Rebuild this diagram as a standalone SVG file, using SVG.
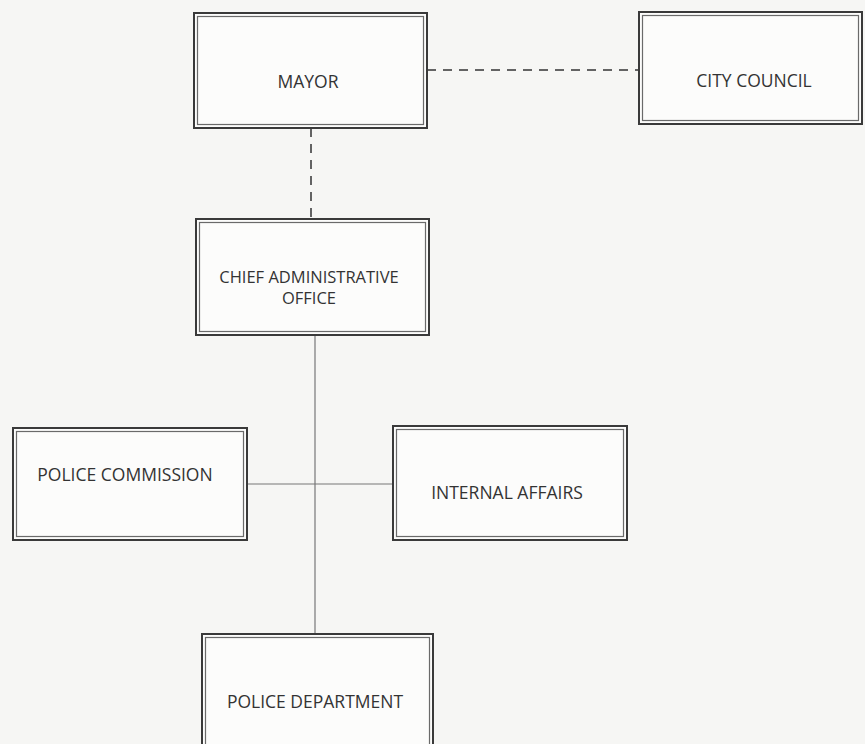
<svg xmlns="http://www.w3.org/2000/svg" width="865" height="744" viewBox="0 0 865 744">
<style>
.outer{fill:#fcfcfb;stroke:#3a3a3a;stroke-width:2}
.inner{fill:none;stroke:#6a6a6a;stroke-width:1.2}
.lbl{font-family:"Open Sans","Liberation Sans",sans-serif;font-size:17.5px;fill:#333;text-anchor:middle}
.small{font-size:16.5px}
.solid{stroke:#777;stroke-width:1.2;fill:none}
.dash{stroke:#333;stroke-width:1.5;fill:none;stroke-dasharray:9,7}
</style>
<rect width="865" height="744" fill="#f6f6f4"/>
<g id="connectors">
<path class="dash" d="M427 70 H638"/>
<path class="dash" d="M311 128 V219"/>
<path class="solid" d="M315 335 V634"/>
<path class="solid" d="M247 484 H393"/>
</g>
<g id="mayor">
<rect class="outer" x="194" y="13" width="233" height="115"/>
<rect class="inner" x="197.5" y="16.5" width="226" height="108"/>
<text class="lbl" x="308" y="88">MAYOR</text>
</g>
<g id="city-council">
<rect class="outer" x="639" y="12" width="223" height="112"/>
<rect class="inner" x="642.5" y="15.5" width="216" height="105"/>
<text class="lbl" x="754" y="86.5">CITY COUNCIL</text>
</g>
<g id="cao">
<rect class="outer" x="196" y="219" width="233" height="116"/>
<rect class="inner" x="199.5" y="222.5" width="226" height="109"/>
<text class="lbl small" x="309" y="283">CHIEF ADMINISTRATIVE</text>
<text class="lbl small" x="309" y="304">OFFICE</text>
</g>
<g id="police-commission">
<rect class="outer" x="13" y="428" width="234" height="112"/>
<rect class="inner" x="16.5" y="431.5" width="227" height="105"/>
<text class="lbl" x="125" y="481">POLICE COMMISSION</text>
</g>
<g id="internal-affairs">
<rect class="outer" x="393" y="426" width="234" height="114"/>
<rect class="inner" x="396.5" y="429.5" width="227" height="107"/>
<text class="lbl" x="507" y="499">INTERNAL AFFAIRS</text>
</g>
<g id="police-department">
<rect class="outer" x="202" y="634" width="231" height="120"/>
<rect class="inner" x="205.5" y="637.5" width="224" height="113"/>
<text class="lbl" x="315" y="708">POLICE DEPARTMENT</text>
</g>
</svg>
